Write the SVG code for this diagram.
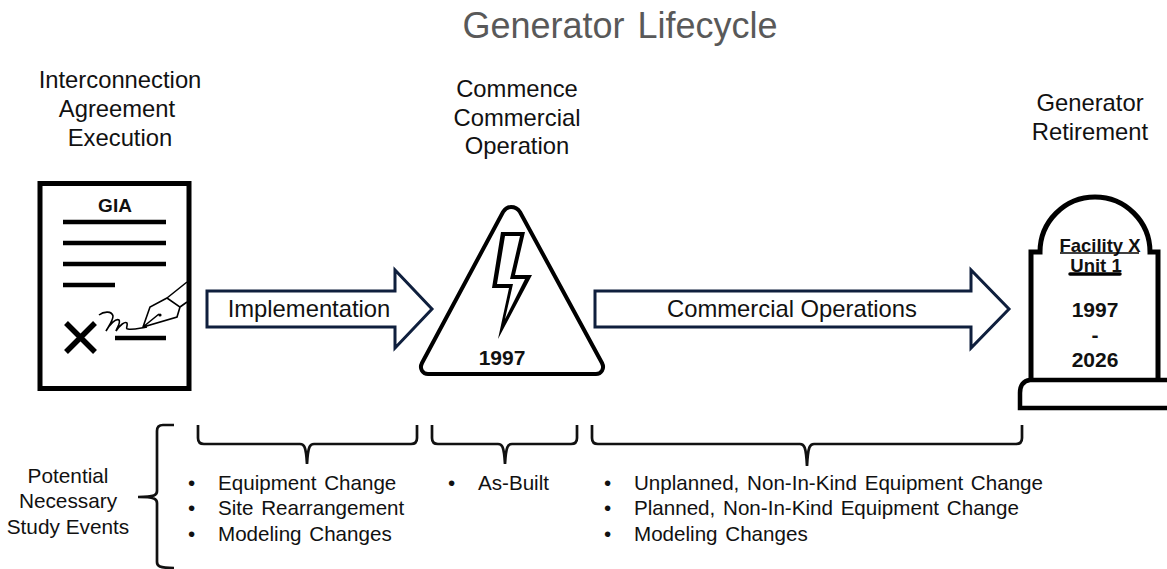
<svg xmlns="http://www.w3.org/2000/svg" width="1167" height="569" viewBox="0 0 1167 569">
<style>
text{font-family:"Liberation Sans",Arial,sans-serif;fill:#111}
.l{font-size:23.8px;text-anchor:middle}
.t{font-size:20.6px;word-spacing:2px}
.s{font-size:20.8px;text-anchor:middle}
.b{font-size:21px;font-weight:bold;text-anchor:middle}
.k{fill:none;stroke:#000;stroke-width:5}
.n{fill:none;stroke:#000;stroke-width:4.5}
.a{fill:#fff;stroke:#0f1f3d;stroke-width:3}
.br{fill:none;stroke:#111;stroke-width:2.7}
</style>
<rect width="1167" height="569" fill="#fff"/>
<text x="620" y="38" text-anchor="middle" style="font-size:36px;fill:#595959;word-spacing:3px">Generator Lifecycle</text>
<g id="node-agreement">
<text class="l" x="120" y="88">Interconnection</text>
<text class="l" x="117" y="117">Agreement</text>
<text class="l" x="120" y="146">Execution</text>
<rect class="k" x="40" y="183.5" width="149" height="205" fill="#fff"/>
<text class="b" x="115" y="212" style="font-size:19px">GIA</text>
<path class="n" d="M63 222H166M63 243H166M63 264H166M63 285H115M115 338H166"/>
<path d="M66 323L95 352M95 323L66 352" fill="none" stroke="#000" stroke-width="5.5"/>
<path d="M99 315C104 311 112 311 113 316C113 321 108 327 106 331C110 324 116 318 119 320C121 323 117 327 116 331C120 325 125 321 127 323C128 326 125 329 128 329C133 330 140 328 147 327" fill="none" stroke="#000" stroke-width="1.6"/>
<path d="M143 327L150 307L167 298L180 307L177 317ZM143 327L159 314M167 298L187 282M180 307L187 302" fill="#fff" stroke="#000" stroke-width="1.6"/>
<circle cx="160" cy="315" r="1.6"/>
</g>
<g id="node-operation">
<text class="l" x="517" y="97">Commence</text>
<text class="l" x="517" y="126">Commercial</text>
<text class="l" x="517" y="154">Operation</text>
<path d="M511 207C507 207 505 209 503 212L422 363C419 369 423 374 428 374H596C601 374 605 369 602 363L520 212C518 209 515 207 511 207Z" fill="#fff" stroke="#000" stroke-width="4"/>
<path d="M501 232H525L515 275H532L498 339L509 288H492Z" fill="#000"/>
<path d="M505 236H520L510 279H525L505 319L513 284H497Z" fill="#fff"/>
<text class="b" x="502" y="365">1997</text>
</g>
<g id="node-retirement">
<text class="l" x="1090" y="111">Generator</text>
<text class="l" x="1090" y="140">Retirement</text>
<path d="M1031 380V252H1040A55 55 0 0 1 1150 252H1158V380" fill="#fff" stroke="#000" stroke-width="5"/>
<path d="M1167 380H1030C1023 381 1020 386 1020 393V408H1167" fill="#fff" stroke="#000" stroke-width="4.5"/>
<text class="b" x="1100" y="252" style="font-size:18.5px">Facility X</text>
<text class="b" x="1096" y="272" style="font-size:18.5px">Unit 1</text>
<path d="M1060 253H1139" stroke="#000" stroke-width="1.5"/>
<path d="M1070 274H1120" stroke="#000" stroke-width="3.5" stroke-linecap="round"/>
<text class="b" x="1095" y="317">1997</text>
<text class="b" x="1095" y="342">-</text>
<text class="b" x="1095" y="367">2026</text>
</g>
<g id="connectors">
<path class="a" d="M207 291H395V270L432 309L395 348V327H207Z"/>
<path class="a" d="M595 291H971V270L1009 309L971 348V327H595Z"/>
<text class="l" x="309" y="317">Implementation</text>
<text class="l" x="792" y="317">Commercial Operations</text>
</g>
<g id="braces">
<path class="br" d="M174 425H163C159 425 157 427 157 431V491C157 495 155 497 138 497C155 497 157 499 157 503V562C157 566 159 568 174 568"/>
<path class="br" d="M198 425V438C198 442 200 444 204 444H300C304 444 306 446 307 464C308 446 310 444 314 444H411C415 444 417 442 417 438V425"/>
<path class="br" d="M432 425V438C432 442 434 444 438 444H498C502 444 504 446 505 464C506 446 508 444 512 444H571C575 444 577 442 577 438V425"/>
<path class="br" d="M592 425V438C592 442 594 444 598 444H800C804 444 806 446 807 466C808 446 810 444 814 444H1016C1020 444 1022 442 1022 438V425"/>
</g>
<g id="study-events">
<text class="s" x="68" y="483">Potential</text>
<text class="s" x="68" y="508">Necessary</text>
<text class="s" x="68" y="534">Study Events</text>
<text class="t" x="188" y="490">•</text><text class="t" x="218" y="490">Equipment Change</text>
<text class="t" x="188" y="515">•</text><text class="t" x="218" y="515">Site Rearrangement</text>
<text class="t" x="188" y="541">•</text><text class="t" x="218" y="541">Modeling Changes</text>
<text class="t" x="448" y="490">•</text><text class="t" x="478" y="490">As-Built</text>
<text class="t" x="604" y="490">•</text><text class="t" x="634" y="490">Unplanned, Non-In-Kind Equipment Change</text>
<text class="t" x="604" y="515">•</text><text class="t" x="634" y="515">Planned, Non-In-Kind Equipment Change</text>
<text class="t" x="604" y="541">•</text><text class="t" x="634" y="541">Modeling Changes</text>
</g>
</svg>
